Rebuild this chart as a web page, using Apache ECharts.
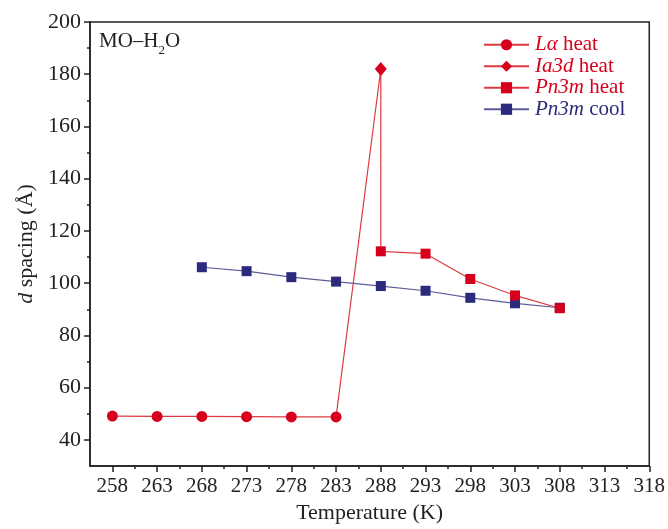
<!DOCTYPE html>
<html>
<head>
<meta charset="utf-8">
<script src="https://cdn.jsdelivr.net/npm/echarts@6/dist/echarts.min.js"></script>
<style>html,body{margin:0;padding:0;background:#fff}#c{width:668px;height:529px}</style>
</head>
<body>
<div id="c"></div>
<script>
// Data
const laTemps = [258, 263, 268, 273, 278, 283];
const laHeat = [49.1, 49.0, 49.0, 48.9, 48.8, 48.8];
const ia3dTemps = [288];
const ia3dHeat = [182.0];
const pnHeatTemps = [288, 293, 298, 303, 308];
const pnHeat = [112.2, 111.3, 101.6, 95.3, 90.4];
const pnCoolTemps = [268, 273, 278, 283, 288, 293, 298, 303, 308];
const pnCool = [106.1, 104.6, 102.3, 100.6, 98.9, 97.1, 94.4, 92.3, 90.6];
const xTicks = [258, 263, 268, 273, 278, 283, 288, 293, 298, 303, 308, 313, 318];
const xMinorTicks = [260.5, 265.5, 270.5, 275.5, 280.5, 285.5, 290.5, 295.5, 300.5, 305.5, 310.5, 315.5];
const yTicks = [40, 60, 80, 100, 120, 140, 160, 180, 200];
const yMinorTicks = [50, 70, 90, 110, 130, 150, 170, 190];

const pair = (xs, ys) => xs.map((x, i) => [x, ys[i]]);
const connector = [
  [laTemps[laTemps.length - 1], laHeat[laHeat.length - 1]],
  [ia3dTemps[0], ia3dHeat[0]],
  [pnHeatTemps[0], pnHeat[0]]
];

const RED = '#d7001c', REDLINE = '#dc3a40', BLUE = '#2c2a7c', BLUELINE = '#5d5c98', AX = '#222';
const FONT = '"Liberation Serif", "Times New Roman", serif';

const chart = echarts.init(document.getElementById('c'), null, {renderer: 'canvas'});
const legendMap = {
  'Lα heat': '{ri|Lα} {rn|heat}',
  'Ia3d heat': '{ri|Ia3d} {rn|heat}',
  'Pn3m heat': '{ri|Pn3m} {rn|heat}',
  'Pn3m cool': '{bi|Pn3m} {bn|cool}'
};
const LF = 21;
const baseAxisX = {type: 'value', min: 255.5, max: 318, gridIndex: 0, position: 'bottom'};
const baseAxisY = {type: 'value', min: 30, max: 200, gridIndex: 0, position: 'left'};
chart.setOption({
  animation: false,
  grid: {left: 90, top: 22, right: 18, bottom: 57, show: true, borderColor: AX, borderWidth: 1.5, backgroundColor: 'transparent'},
  xAxis: [
    Object.assign({}, baseAxisX, {
      name: 'Temperature (K)', nameLocation: 'middle', nameGap: 36,
      nameTextStyle: {fontFamily: FONT, fontSize: 22, color: AX},
      axisLine: {show: true, lineStyle: {color: AX, width: 1.5}},
      axisTick: {show: true, inside: false, length: 6, lineStyle: {color: AX, width: 1.5}, customValues: xTicks},
      axisLabel: {show: true, margin: 10, fontFamily: FONT, fontSize: 21, color: AX, customValues: xTicks},
      splitLine: {show: false}
    }),
    Object.assign({}, baseAxisX, {
      axisLine: {show: false},
      axisTick: {show: true, inside: false, length: 3, lineStyle: {color: AX, width: 1.5}, customValues: xMinorTicks},
      axisLabel: {show: false},
      splitLine: {show: false}
    })
  ],
  yAxis: [
    Object.assign({}, baseAxisY, {
      name: '{i|d} spacing (Å)', nameLocation: 'middle', nameGap: 50, nameRotate: 90,
      nameTextStyle: {fontFamily: FONT, fontSize: 22, color: AX, rich: {i: {fontFamily: FONT, fontSize: 22, fontStyle: 'italic', color: AX}}},
      axisLine: {show: true, lineStyle: {color: AX, width: 1.5}},
      axisTick: {show: true, inside: false, length: 6, lineStyle: {color: AX, width: 1.5}, customValues: yTicks},
      axisLabel: {show: true, margin: 9, fontFamily: FONT, fontSize: 22, color: AX, customValues: yTicks},
      splitLine: {show: false}
    }),
    Object.assign({}, baseAxisY, {
      axisLine: {show: false},
      axisTick: {show: true, inside: false, length: 3, lineStyle: {color: AX, width: 1.5}, customValues: yMinorTicks},
      axisLabel: {show: false},
      splitLine: {show: false}
    })
  ],
  legend: {
    left: 483, top: 34, padding: 0, orient: 'vertical', itemGap: 0, itemWidth: 45, itemHeight: 14,
    data: ['Lα heat', 'Ia3d heat', 'Pn3m heat', 'Pn3m cool'],
    formatter: n => legendMap[n],
    textStyle: {
      fontFamily: FONT, fontSize: LF, lineHeight: 21.5, padding: [0, 0, 0, 1],
      rich: {
        ri: {fontFamily: FONT, fontSize: LF, fontStyle: 'italic', color: RED, lineHeight: 21.5},
        rn: {fontFamily: FONT, fontSize: LF, color: RED, lineHeight: 21.5},
        bi: {fontFamily: FONT, fontSize: LF, fontStyle: 'italic', color: BLUE, lineHeight: 21.5},
        bn: {fontFamily: FONT, fontSize: LF, color: BLUE, lineHeight: 21.5}
      }
    }
  },
  graphic: [{
    type: 'text', left: 99, top: 31,
    style: {
      text: '{a|MO–H}{s|2}{a|O}',
      rich: {
        a: {fontFamily: FONT, fontSize: 21, fill: AX, lineHeight: 24, verticalAlign: 'bottom'},
        s: {fontFamily: FONT, fontSize: 13, fill: AX, lineHeight: 14, verticalAlign: 'bottom', padding: [0, 0, -5, 0]}
      }
    }
  }],
  series: [
    {
      name: 'connector', type: 'line', data: connector, symbol: 'none', silent: true,
      lineStyle: {color: REDLINE, width: 1.2}, z: 1
    },
    {
      name: 'Pn3m cool', type: 'line', data: pair(pnCoolTemps, pnCool),
      symbol: 'rect', symbolSize: 10,
      itemStyle: {color: BLUE}, lineStyle: {color: BLUELINE, width: 1.2}, z: 2
    },
    {
      name: 'Lα heat', type: 'line', data: pair(laTemps, laHeat),
      symbol: 'circle', symbolSize: 11,
      itemStyle: {color: RED}, lineStyle: {color: REDLINE, width: 1.2}, z: 3
    },
    {
      name: 'Ia3d heat', type: 'line', data: pair(ia3dTemps, ia3dHeat),
      symbol: 'diamond', symbolSize: [12, 14],
      itemStyle: {color: RED}, lineStyle: {color: REDLINE, width: 1.2}, z: 3
    },
    {
      name: 'Pn3m heat', type: 'line', data: pair(pnHeatTemps, pnHeat),
      symbol: 'rect', symbolSize: 10,
      itemStyle: {color: RED}, lineStyle: {color: REDLINE, width: 1.2}, z: 3
    }
  ]
});
</script>
</body>
</html>
